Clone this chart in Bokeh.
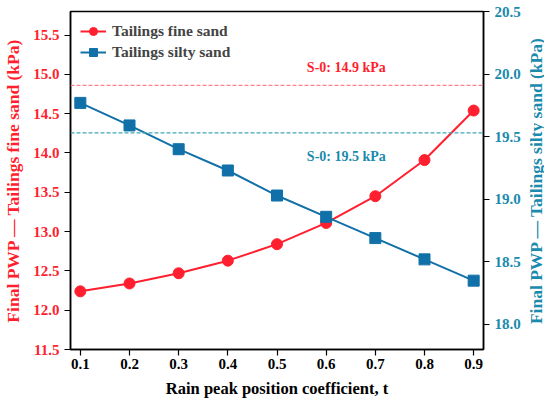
import math
from bokeh.plotting import figure
from bokeh.layouts import row
from bokeh.models import Range1d, LinearAxis, FixedTicker, PrintfTickFormatter, Span, Label, Legend, LegendItem
from bokeh.embed import file_html
from bokeh.resources import INLINE

t = [0.1, 0.2, 0.3, 0.4, 0.5, 0.6, 0.7, 0.8, 0.9]
fine_sand = [12.24, 12.34, 12.47, 12.63, 12.84, 13.11, 13.45, 13.91, 14.54]
silty_sand = [19.77, 19.59, 19.40, 19.23, 19.03, 18.86, 18.69, 18.52, 18.35]
fine_ref = 14.86
silty_ref = 19.53
left_ticks = [11.5, 12.0, 12.5, 13.0, 13.5, 14.0, 14.5, 15.0, 15.5]
right_ticks = [18.0, 18.5, 19.0, 19.5, 20.0, 20.5]

RED = "#ff1f2e"
BLUE = "#1170a8"
TEAL = "#1a8aad"
FONT = "Liberation Serif"

W, H, W2 = 526, 400, 18
BL, BR, BT, BB = 67, 43, 11, 47

p = figure(width=W, height=H, output_backend="svg", toolbar_location=None,
           x_range=Range1d(0.08, 0.92), y_range=Range1d(11.5, 15.8),
           min_border_left=BL, min_border_right=BR, min_border_top=BT, min_border_bottom=BB)
p.extra_y_ranges = {"right": Range1d(17.8, 20.5)}
p.grid.visible = False
p.outline_line_color = "black"
p.outline_line_width = 1.5

def style_axis(ax, color):
    ax.axis_line_color = "black"
    ax.axis_line_width = 1.5
    ax.major_tick_line_color = "black"
    ax.major_tick_line_width = 1.2
    ax.major_tick_out = 6
    ax.major_tick_in = 0
    ax.minor_tick_line_color = None
    ax.major_label_text_font = FONT
    ax.major_label_text_font_style = "bold"
    ax.major_label_text_font_size = "15px"
    ax.major_label_text_color = color
    ax.major_label_standoff = 5
    ax.axis_label_text_font = FONT
    ax.axis_label_text_font_style = "bold"
    ax.axis_label_text_font_size = "17.5px"
    ax.axis_label_text_color = color
    ax.axis_label_standoff = 7
    ax.formatter = PrintfTickFormatter(format="%.1f")

xa = p.xaxis[0]
style_axis(xa, "black")
xa.ticker = FixedTicker(ticks=t)
xa.axis_label = "Rain peak position coefficient, t"
xa.axis_label_text_font_size = "16.5px"
xa.major_label_standoff = 3
xa.axis_label_standoff = 7

ya = p.yaxis[0]
style_axis(ya, RED)
ya.ticker = FixedTicker(ticks=left_ticks)
ya.axis_label = "Final PWP \u2014 Tailings fine sand (kPa)"

ra = LinearAxis(y_range_name="right")
style_axis(ra, TEAL)
ra.ticker = FixedTicker(ticks=right_ticks)
p.add_layout(ra, "right")

p.add_layout(Span(location=fine_ref, dimension="width", line_color="#ff8090",
                  line_dash="4 2", line_width=1.2))
p.add_layout(Span(location=silty_ref, dimension="width", y_range_name="right",
                  line_color="#40a8b8", line_dash="4 2", line_width=1.2))

p.add_layout(Label(x=0.641, y=fine_ref + 0.23, text="S-0: 14.9 kPa", text_align="center",
                   text_baseline="middle", text_font=FONT, text_font_style="bold",
                   text_font_size="14px", text_color=RED))
p.add_layout(Label(x=0.641, y=silty_ref - 0.19, y_range_name="right", text="S-0: 19.5 kPa",
                   text_align="center", text_baseline="middle", text_font=FONT,
                   text_font_style="bold", text_font_size="14px", text_color=TEAL))

l1 = p.line(t, fine_sand, line_color=RED, line_width=2)
m1 = p.scatter(t, fine_sand, marker="circle", size=11, fill_color=RED, line_color=RED)
l2 = p.line(t, silty_sand, line_color=BLUE, line_width=2, y_range_name="right")
m2 = p.scatter(t, silty_sand, marker="square", size=11, fill_color=BLUE, line_color=BLUE,
               y_range_name="right")

legend = Legend(items=[LegendItem(label="Tailings fine sand", renderers=[l1, m1]),
                       LegendItem(label="Tailings silty sand", renderers=[l2, m2])],
                location="top_left")
legend.border_line_color = None
legend.background_fill_alpha = 0
legend.label_text_font = FONT
legend.label_text_font_style = "bold"
legend.label_text_font_size = "15.5px"
legend.glyph_width = 26
legend.label_standoff = 6
legend.spacing = 1
legend.margin = 10
legend.padding = 3
p.add_layout(legend)

# right-hand axis title, reading bottom-to-top, in a narrow side panel
p2 = figure(width=W2, height=H, output_backend="svg", toolbar_location=None,
            x_range=Range1d(0, 1), y_range=Range1d(0, 1),
            min_border_left=0, min_border_right=0, min_border_top=BT, min_border_bottom=BB)
p2.axis.visible = False
p2.grid.visible = False
p2.outline_line_color = None
p2.add_layout(Label(x=0.5, y=0.5, text="Final PWP \u2014 Tailings silty sand (kPa)",
                    angle=math.pi / 2, text_align="center", text_baseline="middle",
                    text_font=FONT, text_font_style="bold", text_font_size="17.5px",
                    text_color=TEAL))

layout = row(p, p2)
open("out.html", "w").write(file_html(layout, INLINE))
